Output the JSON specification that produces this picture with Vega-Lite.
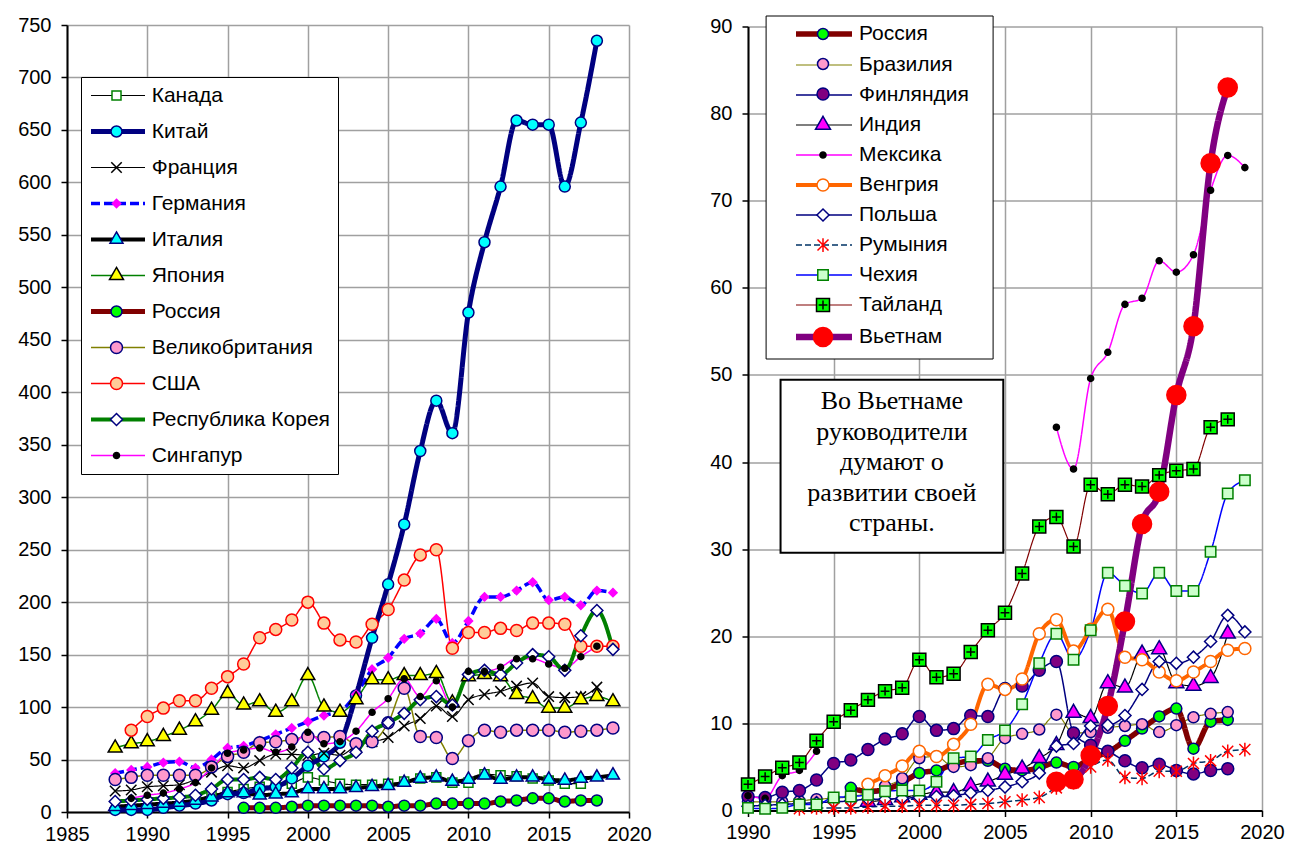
{
"$schema": "https://vega.github.io/schema/vega-lite/v6.json",
"autosize": {"type": "pad"},
"padding": {"left": 17, "top": 15, "right": 5, "bottom": 10},
"background": "white",
"config": {
  "view": {"stroke": null},
  "axis": {"labelFont": "Liberation Sans", "labelFontSize": 20, "labelColor": "black", "domainColor": "black", "domainWidth": 2, "tickColor": "black", "tickSize": 6, "tickWidth": 1.5, "gridColor": "#a0a0a0", "gridWidth": 1.5, "gridOpacity": 1, "labelFlush": false, "labelOverlap": false, "labelPadding": 8}
},
"resolve": {
  "scale": {"color": "independent", "strokeDash": "independent", "fill": "independent", "stroke": "independent", "shape": "independent", "x": "independent", "y": "independent"},
  "legend": {"color": "independent", "strokeDash": "independent", "fill": "independent", "stroke": "independent", "shape": "independent"}
},
"datasets": {
"L": [
{"c":"Канада","t":1993,"v":12},{"c":"Канада","t":1994,"v":16},{"c":"Канада","t":1995,"v":19},{"c":"Канада","t":1996,"v":22},{"c":"Канада","t":1997,"v":24},{"c":"Канада","t":1998,"v":25},{"c":"Канада","t":1999,"v":27},{"c":"Канада","t":2000,"v":33},{"c":"Канада","t":2001,"v":30},{"c":"Канада","t":2002,"v":27},{"c":"Канада","t":2003,"v":26},{"c":"Канада","t":2004,"v":26},{"c":"Канада","t":2005,"v":27},{"c":"Канада","t":2006,"v":29},{"c":"Канада","t":2007,"v":32},{"c":"Канада","t":2008,"v":33},{"c":"Канада","t":2009,"v":28},{"c":"Канада","t":2010,"v":28},{"c":"Канада","t":2011,"v":36},{"c":"Канада","t":2012,"v":35},{"c":"Канада","t":2013,"v":34},{"c":"Канада","t":2014,"v":32},{"c":"Канада","t":2015,"v":30},{"c":"Канада","t":2016,"v":27},{"c":"Канада","t":2017,"v":27},
{"c":"Китай","t":1988,"v":2},{"c":"Китай","t":1989,"v":2},{"c":"Китай","t":1990,"v":2},{"c":"Китай","t":1991,"v":4},{"c":"Китай","t":1992,"v":6},{"c":"Китай","t":1993,"v":8},{"c":"Китай","t":1994,"v":11},{"c":"Китай","t":1995,"v":17},{"c":"Китай","t":1996,"v":18},{"c":"Китай","t":1997,"v":22},{"c":"Китай","t":1998,"v":24},{"c":"Китай","t":1999,"v":32},{"c":"Китай","t":2000,"v":44},{"c":"Китай","t":2001,"v":53},{"c":"Китай","t":2002,"v":66},{"c":"Китай","t":2003,"v":111},{"c":"Китай","t":2004,"v":166},{"c":"Китай","t":2005,"v":217},{"c":"Китай","t":2006,"v":274},{"c":"Китай","t":2007,"v":344},{"c":"Китай","t":2008,"v":392},{"c":"Китай","t":2009,"v":361},{"c":"Китай","t":2010,"v":476},{"c":"Китай","t":2011,"v":543},{"c":"Китай","t":2012,"v":596},{"c":"Китай","t":2013,"v":659},{"c":"Китай","t":2014,"v":655},{"c":"Китай","t":2015,"v":655},{"c":"Китай","t":2016,"v":596},{"c":"Китай","t":2017,"v":657},{"c":"Китай","t":2018,"v":735},
{"c":"Франция","t":1988,"v":20},{"c":"Франция","t":1989,"v":21},{"c":"Франция","t":1990,"v":24},{"c":"Франция","t":1991,"v":25},{"c":"Франция","t":1992,"v":26},{"c":"Франция","t":1993,"v":31},{"c":"Франция","t":1994,"v":38},{"c":"Франция","t":1995,"v":44},{"c":"Франция","t":1996,"v":42},{"c":"Франция","t":1997,"v":49},{"c":"Франция","t":1998,"v":55},{"c":"Франция","t":1999,"v":55},{"c":"Франция","t":2000,"v":54},{"c":"Франция","t":2001,"v":56},{"c":"Франция","t":2002,"v":54},{"c":"Франция","t":2003,"v":63},{"c":"Франция","t":2004,"v":67},{"c":"Франция","t":2005,"v":71},{"c":"Франция","t":2006,"v":82},{"c":"Франция","t":2007,"v":89},{"c":"Франция","t":2008,"v":101},{"c":"Франция","t":2009,"v":91},{"c":"Франция","t":2010,"v":107},{"c":"Франция","t":2011,"v":112},{"c":"Франция","t":2012,"v":115},{"c":"Франция","t":2013,"v":120},{"c":"Франция","t":2014,"v":123},{"c":"Франция","t":2015,"v":110},{"c":"Франция","t":2016,"v":109},{"c":"Франция","t":2017,"v":110},{"c":"Франция","t":2018,"v":119},
{"c":"Германия","t":1988,"v":37},{"c":"Германия","t":1989,"v":40},{"c":"Германия","t":1990,"v":43},{"c":"Германия","t":1991,"v":47},{"c":"Германия","t":1992,"v":48},{"c":"Германия","t":1993,"v":42},{"c":"Германия","t":1994,"v":50},{"c":"Германия","t":1995,"v":61},{"c":"Германия","t":1996,"v":63},{"c":"Германия","t":1997,"v":68},{"c":"Германия","t":1998,"v":74},{"c":"Германия","t":1999,"v":80},{"c":"Германия","t":2000,"v":86},{"c":"Германия","t":2001,"v":92},{"c":"Германия","t":2002,"v":96},{"c":"Германия","t":2003,"v":112},{"c":"Германия","t":2004,"v":136},{"c":"Германия","t":2005,"v":147},{"c":"Германия","t":2006,"v":165},{"c":"Германия","t":2007,"v":170},{"c":"Германия","t":2008,"v":184},{"c":"Германия","t":2009,"v":161},{"c":"Германия","t":2010,"v":182},{"c":"Германия","t":2011,"v":205},{"c":"Германия","t":2012,"v":205},{"c":"Германия","t":2013,"v":211},{"c":"Германия","t":2014,"v":219},{"c":"Германия","t":2015,"v":202},{"c":"Германия","t":2016,"v":205},{"c":"Германия","t":2017,"v":197},{"c":"Германия","t":2018,"v":211},{"c":"Германия","t":2019,"v":209},
{"c":"Италия","t":1988,"v":5},{"c":"Италия","t":1989,"v":6},{"c":"Италия","t":1990,"v":7},{"c":"Италия","t":1991,"v":8},{"c":"Италия","t":1992,"v":9},{"c":"Италия","t":1993,"v":11},{"c":"Италия","t":1994,"v":14},{"c":"Италия","t":1995,"v":18},{"c":"Италия","t":1996,"v":18},{"c":"Италия","t":1997,"v":16},{"c":"Италия","t":1998,"v":17},{"c":"Италия","t":1999,"v":18},{"c":"Италия","t":2000,"v":22},{"c":"Италия","t":2001,"v":22},{"c":"Италия","t":2002,"v":22},{"c":"Италия","t":2003,"v":23},{"c":"Италия","t":2004,"v":24},{"c":"Италия","t":2005,"v":25},{"c":"Италия","t":2006,"v":28},{"c":"Италия","t":2007,"v":32},{"c":"Италия","t":2008,"v":33},{"c":"Италия","t":2009,"v":29},{"c":"Италия","t":2010,"v":31},{"c":"Италия","t":2011,"v":35},{"c":"Италия","t":2012,"v":31},{"c":"Италия","t":2013,"v":33},{"c":"Италия","t":2014,"v":33},{"c":"Италия","t":2015,"v":31},{"c":"Италия","t":2016,"v":30},{"c":"Италия","t":2017,"v":32},{"c":"Италия","t":2018,"v":33},{"c":"Италия","t":2019,"v":35},
{"c":"Япония","t":1988,"v":61},{"c":"Япония","t":1989,"v":65},{"c":"Япония","t":1990,"v":67},{"c":"Япония","t":1991,"v":72},{"c":"Япония","t":1992,"v":78},{"c":"Япония","t":1993,"v":86},{"c":"Япония","t":1994,"v":97},{"c":"Япония","t":1995,"v":113},{"c":"Япония","t":1996,"v":102},{"c":"Япония","t":1997,"v":105},{"c":"Япония","t":1998,"v":95},{"c":"Япония","t":1999,"v":105},{"c":"Япония","t":2000,"v":130},{"c":"Япония","t":2001,"v":100},{"c":"Япония","t":2002,"v":95},{"c":"Япония","t":2003,"v":107},{"c":"Япония","t":2004,"v":126},{"c":"Япония","t":2005,"v":126},{"c":"Япония","t":2006,"v":130},{"c":"Япония","t":2007,"v":130},{"c":"Япония","t":2008,"v":132},{"c":"Япония","t":2009,"v":104},{"c":"Япония","t":2010,"v":129},{"c":"Япония","t":2011,"v":131},{"c":"Япония","t":2012,"v":129},{"c":"Япония","t":2013,"v":112},{"c":"Япония","t":2014,"v":108},{"c":"Япония","t":2015,"v":99},{"c":"Япония","t":2016,"v":99},{"c":"Япония","t":2017,"v":107},{"c":"Япония","t":2018,"v":110},{"c":"Япония","t":2019,"v":105},
{"c":"Россия","t":1996,"v":4},{"c":"Россия","t":1997,"v":4},{"c":"Россия","t":1998,"v":4},{"c":"Россия","t":1999,"v":5},{"c":"Россия","t":2000,"v":6},{"c":"Россия","t":2001,"v":6},{"c":"Россия","t":2002,"v":6},{"c":"Россия","t":2003,"v":6},{"c":"Россия","t":2004,"v":6},{"c":"Россия","t":2005,"v":5},{"c":"Россия","t":2006,"v":6},{"c":"Россия","t":2007,"v":6},{"c":"Россия","t":2008,"v":8},{"c":"Россия","t":2009,"v":8},{"c":"Россия","t":2010,"v":8},{"c":"Россия","t":2011,"v":8},{"c":"Россия","t":2012,"v":10},{"c":"Россия","t":2013,"v":11},{"c":"Россия","t":2014,"v":13},{"c":"Россия","t":2015,"v":13},{"c":"Россия","t":2016,"v":10},{"c":"Россия","t":2017,"v":11},{"c":"Россия","t":2018,"v":11},
{"c":"Великобритания","t":1988,"v":31},{"c":"Великобритания","t":1989,"v":33},{"c":"Великобритания","t":1990,"v":35},{"c":"Великобритания","t":1991,"v":35},{"c":"Великобритания","t":1992,"v":35},{"c":"Великобритания","t":1993,"v":35},{"c":"Великобритания","t":1994,"v":43},{"c":"Великобритания","t":1995,"v":53},{"c":"Великобритания","t":1996,"v":57},{"c":"Великобритания","t":1997,"v":66},{"c":"Великобритания","t":1998,"v":67},{"c":"Великобритания","t":1999,"v":69},{"c":"Великобритания","t":2000,"v":72},{"c":"Великобритания","t":2001,"v":71},{"c":"Великобритания","t":2002,"v":72},{"c":"Великобритания","t":2003,"v":65},{"c":"Великобритания","t":2004,"v":67},{"c":"Великобритания","t":2005,"v":85},{"c":"Великобритания","t":2006,"v":118},{"c":"Великобритания","t":2007,"v":72},{"c":"Великобритания","t":2008,"v":71},{"c":"Великобритания","t":2009,"v":51},{"c":"Великобритания","t":2010,"v":68},{"c":"Великобритания","t":2011,"v":78},{"c":"Великобритания","t":2012,"v":76},{"c":"Великобритания","t":2013,"v":78},{"c":"Великобритания","t":2014,"v":78},{"c":"Великобритания","t":2015,"v":78},{"c":"Великобритания","t":2016,"v":76},{"c":"Великобритания","t":2017,"v":77},{"c":"Великобритания","t":2018,"v":78},{"c":"Великобритания","t":2019,"v":80},
{"c":"США","t":1989,"v":78},{"c":"США","t":1990,"v":91},{"c":"США","t":1991,"v":99},{"c":"США","t":1992,"v":106},{"c":"США","t":1993,"v":106},{"c":"США","t":1994,"v":118},{"c":"США","t":1995,"v":129},{"c":"США","t":1996,"v":141},{"c":"США","t":1997,"v":166},{"c":"США","t":1998,"v":174},{"c":"США","t":1999,"v":183},{"c":"США","t":2000,"v":200},{"c":"США","t":2001,"v":180},{"c":"США","t":2002,"v":164},{"c":"США","t":2003,"v":162},{"c":"США","t":2004,"v":179},{"c":"США","t":2005,"v":193},{"c":"США","t":2006,"v":221},{"c":"США","t":2007,"v":245},{"c":"США","t":2008,"v":250},{"c":"США","t":2009,"v":156},{"c":"США","t":2010,"v":171},{"c":"США","t":2011,"v":171},{"c":"США","t":2012,"v":175},{"c":"США","t":2013,"v":173},{"c":"США","t":2014,"v":180},{"c":"США","t":2015,"v":180},{"c":"США","t":2016,"v":179},{"c":"США","t":2017,"v":158},{"c":"США","t":2018,"v":158},{"c":"США","t":2019,"v":158},
{"c":"Республика Корея","t":1988,"v":10},{"c":"Республика Корея","t":1989,"v":11},{"c":"Республика Корея","t":1990,"v":12},{"c":"Республика Корея","t":1991,"v":13},{"c":"Республика Корея","t":1992,"v":14},{"c":"Республика Корея","t":1993,"v":16},{"c":"Республика Корея","t":1994,"v":22},{"c":"Республика Корея","t":1995,"v":31},{"c":"Республика Корея","t":1996,"v":31},{"c":"Республика Корея","t":1997,"v":33},{"c":"Республика Корея","t":1998,"v":31},{"c":"Республика Корея","t":1999,"v":42},{"c":"Республика Корея","t":2000,"v":57},{"c":"Республика Корея","t":2001,"v":41},{"c":"Республика Корея","t":2002,"v":49},{"c":"Республика Корея","t":2003,"v":57},{"c":"Республика Корея","t":2004,"v":77},{"c":"Республика Корея","t":2005,"v":85},{"c":"Республика Корея","t":2006,"v":94},{"c":"Республика Корея","t":2007,"v":107},{"c":"Республика Корея","t":2008,"v":110},{"c":"Республика Корея","t":2009,"v":102},{"c":"Республика Корея","t":2010,"v":131},{"c":"Республика Корея","t":2011,"v":135},{"c":"Республика Корея","t":2012,"v":131},{"c":"Республика Корея","t":2013,"v":142},{"c":"Республика Корея","t":2014,"v":150},{"c":"Республика Корея","t":2015,"v":148},{"c":"Республика Корея","t":2016,"v":135},{"c":"Республика Корея","t":2017,"v":168},{"c":"Республика Корея","t":2018,"v":192},{"c":"Республика Корея","t":2019,"v":155},
{"c":"Сингапур","t":1989,"v":13},{"c":"Сингапур","t":1990,"v":16},{"c":"Сингапур","t":1991,"v":18},{"c":"Сингапур","t":1992,"v":22},{"c":"Сингапур","t":1993,"v":28},{"c":"Сингапур","t":1994,"v":42},{"c":"Сингапур","t":1995,"v":56},{"c":"Сингапур","t":1996,"v":59},{"c":"Сингапур","t":1997,"v":61},{"c":"Сингапур","t":1998,"v":57},{"c":"Сингапур","t":1999,"v":62},{"c":"Сингапур","t":2000,"v":76},{"c":"Сингапур","t":2001,"v":65},{"c":"Сингапур","t":2002,"v":67},{"c":"Сингапур","t":2003,"v":77},{"c":"Сингапур","t":2004,"v":95},{"c":"Сингапур","t":2005,"v":108},{"c":"Сингапур","t":2006,"v":127},{"c":"Сингапур","t":2007,"v":110},{"c":"Сингапур","t":2008,"v":125},{"c":"Сингапур","t":2009,"v":100},{"c":"Сингапур","t":2010,"v":134},{"c":"Сингапур","t":2011,"v":134},{"c":"Сингапур","t":2012,"v":138},{"c":"Сингапур","t":2013,"v":146},{"c":"Сингапур","t":2014,"v":146},{"c":"Сингапур","t":2015,"v":141},{"c":"Сингапур","t":2016,"v":137},{"c":"Сингапур","t":2017,"v":148},{"c":"Сингапур","t":2018,"v":158}
],
"R": [
{"c":"Россия","t":1996,"v":2.6},{"c":"Россия","t":1997,"v":2.2},{"c":"Россия","t":1998,"v":2.4},{"c":"Россия","t":1999,"v":3.2},{"c":"Россия","t":2000,"v":4.3},{"c":"Россия","t":2001,"v":4.6},{"c":"Россия","t":2002,"v":5.3},{"c":"Россия","t":2003,"v":5.7},{"c":"Россия","t":2004,"v":5.7},{"c":"Россия","t":2005,"v":4.8},{"c":"Россия","t":2006,"v":4.6},{"c":"Россия","t":2007,"v":4.9},{"c":"Россия","t":2008,"v":5.5},{"c":"Россия","t":2009,"v":5.0},{"c":"Россия","t":2010,"v":6.0},{"c":"Россия","t":2011,"v":6.7},{"c":"Россия","t":2012,"v":8.0},{"c":"Россия","t":2013,"v":9.4},{"c":"Россия","t":2014,"v":10.8},{"c":"Россия","t":2015,"v":11.7},{"c":"Россия","t":2016,"v":7.1},{"c":"Россия","t":2017,"v":10.2},{"c":"Россия","t":2018,"v":10.4},
{"c":"Бразилия","t":1990,"v":1.0},{"c":"Бразилия","t":1991,"v":1.0},{"c":"Бразилия","t":1992,"v":1.0},{"c":"Бразилия","t":1993,"v":1.1},{"c":"Бразилия","t":1994,"v":1.3},{"c":"Бразилия","t":1995,"v":1.4},{"c":"Бразилия","t":1996,"v":1.6},{"c":"Бразилия","t":1997,"v":2.0},{"c":"Бразилия","t":1998,"v":2.8},{"c":"Бразилия","t":1999,"v":3.7},{"c":"Бразилия","t":2000,"v":6.0},{"c":"Бразилия","t":2001,"v":6.2},{"c":"Бразилия","t":2002,"v":5.0},{"c":"Бразилия","t":2003,"v":5.2},{"c":"Бразилия","t":2004,"v":6.0},{"c":"Бразилия","t":2005,"v":8.3},{"c":"Бразилия","t":2006,"v":8.8},{"c":"Бразилия","t":2007,"v":9.3},{"c":"Бразилия","t":2008,"v":11.0},{"c":"Бразилия","t":2009,"v":8.9},{"c":"Бразилия","t":2010,"v":9.0},{"c":"Бразилия","t":2011,"v":9.5},{"c":"Бразилия","t":2012,"v":9.7},{"c":"Бразилия","t":2013,"v":9.9},{"c":"Бразилия","t":2014,"v":9.0},{"c":"Бразилия","t":2015,"v":9.8},{"c":"Бразилия","t":2016,"v":10.7},{"c":"Бразилия","t":2017,"v":11.1},{"c":"Бразилия","t":2018,"v":11.3},
{"c":"Финляндия","t":1990,"v":1.6},{"c":"Финляндия","t":1991,"v":1.5},{"c":"Финляндия","t":1992,"v":2.1},{"c":"Финляндия","t":1993,"v":2.3},{"c":"Финляндия","t":1994,"v":3.5},{"c":"Финляндия","t":1995,"v":5.4},{"c":"Финляндия","t":1996,"v":5.8},{"c":"Финляндия","t":1997,"v":7.0},{"c":"Финляндия","t":1998,"v":8.2},{"c":"Финляндия","t":1999,"v":8.8},{"c":"Финляндия","t":2000,"v":10.8},{"c":"Финляндия","t":2001,"v":9.2},{"c":"Финляндия","t":2002,"v":9.4},{"c":"Финляндия","t":2003,"v":10.9},{"c":"Финляндия","t":2004,"v":10.8},{"c":"Финляндия","t":2005,"v":14.0},{"c":"Финляндия","t":2006,"v":14.3},{"c":"Финляндия","t":2007,"v":16.1},{"c":"Финляндия","t":2008,"v":17.1},{"c":"Финляндия","t":2009,"v":8.9},{"c":"Финляндия","t":2010,"v":7.5},{"c":"Финляндия","t":2011,"v":6.8},{"c":"Финляндия","t":2012,"v":5.7},{"c":"Финляндия","t":2013,"v":4.9},{"c":"Финляндия","t":2014,"v":5.3},{"c":"Финляндия","t":2015,"v":4.6},{"c":"Финляндия","t":2016,"v":4.2},{"c":"Финляндия","t":2017,"v":4.6},{"c":"Финляндия","t":2018,"v":4.8},
{"c":"Индия","t":1997,"v":1.0},{"c":"Индия","t":1998,"v":1.2},{"c":"Индия","t":1999,"v":1.5},{"c":"Индия","t":2000,"v":1.8},{"c":"Индия","t":2001,"v":2.1},{"c":"Индия","t":2002,"v":2.1},{"c":"Индия","t":2003,"v":2.8},{"c":"Индия","t":2004,"v":3.3},{"c":"Индия","t":2005,"v":4.1},{"c":"Индия","t":2006,"v":4.8},{"c":"Индия","t":2007,"v":6.0},{"c":"Индия","t":2008,"v":7.5},{"c":"Индия","t":2009,"v":11.2},{"c":"Индия","t":2010,"v":10.6},{"c":"Индия","t":2011,"v":14.6},{"c":"Индия","t":2012,"v":14.1},{"c":"Индия","t":2013,"v":18.0},{"c":"Индия","t":2014,"v":18.5},{"c":"Индия","t":2015,"v":14.6},{"c":"Индия","t":2016,"v":14.3},{"c":"Индия","t":2017,"v":15.2},{"c":"Индия","t":2018,"v":20.3},
{"c":"Мексика","g":1,"t":1990,"v":1.7},{"c":"Мексика","g":1,"t":1991,"v":1.4},{"c":"Мексика","g":1,"t":1992,"v":4.0},{"c":"Мексика","g":1,"t":1993,"v":4.6},{"c":"Мексика","g":1,"t":1994,"v":6.8},{"c":"Мексика","g":2,"t":2008,"v":44.0},{"c":"Мексика","g":2,"t":2009,"v":39.2},{"c":"Мексика","g":2,"t":2010,"v":49.6},{"c":"Мексика","g":2,"t":2011,"v":52.6},{"c":"Мексика","g":2,"t":2012,"v":58.1},{"c":"Мексика","g":2,"t":2013,"v":58.8},{"c":"Мексика","g":2,"t":2014,"v":63.1},{"c":"Мексика","g":2,"t":2015,"v":61.8},{"c":"Мексика","g":2,"t":2016,"v":63.8},{"c":"Мексика","g":2,"t":2017,"v":71.2},{"c":"Мексика","g":2,"t":2018,"v":75.2},{"c":"Мексика","g":2,"t":2019,"v":73.8},
{"c":"Венгрия","t":1997,"v":3.0},{"c":"Венгрия","t":1998,"v":4.0},{"c":"Венгрия","t":1999,"v":5.1},{"c":"Венгрия","t":2000,"v":6.8},{"c":"Венгрия","t":2001,"v":6.2},{"c":"Венгрия","t":2002,"v":7.6},{"c":"Венгрия","t":2003,"v":9.9},{"c":"Венгрия","t":2004,"v":14.5},{"c":"Венгрия","t":2005,"v":13.9},{"c":"Венгрия","t":2006,"v":15.1},{"c":"Венгрия","t":2007,"v":20.3},{"c":"Венгрия","t":2008,"v":21.9},{"c":"Венгрия","t":2009,"v":18.3},{"c":"Венгрия","t":2010,"v":20.8},{"c":"Венгрия","t":2011,"v":23.1},{"c":"Венгрия","t":2012,"v":17.6},{"c":"Венгрия","t":2013,"v":17.3},{"c":"Венгрия","t":2014,"v":15.9},{"c":"Венгрия","t":2015,"v":14.9},{"c":"Венгрия","t":2016,"v":15.9},{"c":"Венгрия","t":2017,"v":17.1},{"c":"Венгрия","t":2018,"v":18.4},{"c":"Венгрия","t":2019,"v":18.6},
{"c":"Польша","t":1990,"v":0.5},{"c":"Польша","t":1991,"v":0.6},{"c":"Польша","t":1992,"v":0.7},{"c":"Польша","t":1993,"v":0.8},{"c":"Польша","t":1994,"v":0.9},{"c":"Польша","t":1995,"v":1.0},{"c":"Польша","t":1996,"v":1.1},{"c":"Польша","t":1997,"v":1.3},{"c":"Польша","t":1998,"v":1.3},{"c":"Польша","t":1999,"v":1.4},{"c":"Польша","t":2000,"v":1.5},{"c":"Польша","t":2001,"v":1.6},{"c":"Польша","t":2002,"v":1.7},{"c":"Польша","t":2003,"v":2.0},{"c":"Польша","t":2004,"v":2.3},{"c":"Польша","t":2005,"v":2.7},{"c":"Польша","t":2006,"v":3.3},{"c":"Польша","t":2007,"v":4.3},{"c":"Польша","t":2008,"v":7.4},{"c":"Польша","t":2009,"v":7.7},{"c":"Польша","t":2010,"v":9.7},{"c":"Польша","t":2011,"v":9.8},{"c":"Польша","t":2012,"v":10.9},{"c":"Польша","t":2013,"v":13.9},{"c":"Польша","t":2014,"v":17.1},{"c":"Польша","t":2015,"v":16.9},{"c":"Польша","t":2016,"v":17.6},{"c":"Польша","t":2017,"v":19.4},{"c":"Польша","t":2018,"v":22.4},{"c":"Польша","t":2019,"v":20.5},
{"c":"Румыния","t":1993,"v":0.2},{"c":"Румыния","t":1994,"v":0.3},{"c":"Румыния","t":1995,"v":0.3},{"c":"Румыния","t":1996,"v":0.3},{"c":"Румыния","t":1997,"v":0.4},{"c":"Румыния","t":1998,"v":0.5},{"c":"Румыния","t":1999,"v":0.5},{"c":"Румыния","t":2000,"v":0.6},{"c":"Румыния","t":2001,"v":0.6},{"c":"Румыния","t":2002,"v":0.6},{"c":"Румыния","t":2003,"v":0.7},{"c":"Румыния","t":2004,"v":0.8},{"c":"Румыния","t":2005,"v":1.0},{"c":"Румыния","t":2006,"v":1.2},{"c":"Румыния","t":2007,"v":1.5},{"c":"Румыния","t":2008,"v":2.6},{"c":"Румыния","t":2009,"v":3.2},{"c":"Румыния","t":2010,"v":5.0},{"c":"Румыния","t":2011,"v":5.8},{"c":"Румыния","t":2012,"v":3.8},{"c":"Румыния","t":2013,"v":3.7},{"c":"Румыния","t":2014,"v":4.5},{"c":"Румыния","t":2015,"v":4.5},{"c":"Румыния","t":2016,"v":5.4},{"c":"Румыния","t":2017,"v":5.7},{"c":"Румыния","t":2018,"v":6.8},{"c":"Румыния","t":2019,"v":7.0},
{"c":"Чехия","t":1990,"v":0.3},{"c":"Чехия","t":1991,"v":0.2},{"c":"Чехия","t":1992,"v":0.3},{"c":"Чехия","t":1993,"v":0.7},{"c":"Чехия","t":1994,"v":0.7},{"c":"Чехия","t":1995,"v":1.5},{"c":"Чехия","t":1996,"v":1.6},{"c":"Чехия","t":1997,"v":1.8},{"c":"Чехия","t":1998,"v":2.2},{"c":"Чехия","t":1999,"v":2.3},{"c":"Чехия","t":2000,"v":2.3},{"c":"Чехия","t":2001,"v":3.3},{"c":"Чехия","t":2002,"v":6.0},{"c":"Чехия","t":2003,"v":6.2},{"c":"Чехия","t":2004,"v":8.1},{"c":"Чехия","t":2005,"v":9.2},{"c":"Чехия","t":2006,"v":12.2},{"c":"Чехия","t":2007,"v":16.9},{"c":"Чехия","t":2008,"v":20.3},{"c":"Чехия","t":2009,"v":17.3},{"c":"Чехия","t":2010,"v":20.7},{"c":"Чехия","t":2011,"v":27.3},{"c":"Чехия","t":2012,"v":25.8},{"c":"Чехия","t":2013,"v":24.9},{"c":"Чехия","t":2014,"v":27.3},{"c":"Чехия","t":2015,"v":25.2},{"c":"Чехия","t":2016,"v":25.2},{"c":"Чехия","t":2017,"v":29.7},{"c":"Чехия","t":2018,"v":36.4},{"c":"Чехия","t":2019,"v":37.9},
{"c":"Тайланд","t":1990,"v":3.0},{"c":"Тайланд","t":1991,"v":3.9},{"c":"Тайланд","t":1992,"v":4.9},{"c":"Тайланд","t":1993,"v":5.5},{"c":"Тайланд","t":1994,"v":8.0},{"c":"Тайланд","t":1995,"v":10.2},{"c":"Тайланд","t":1996,"v":11.5},{"c":"Тайланд","t":1997,"v":12.7},{"c":"Тайланд","t":1998,"v":13.7},{"c":"Тайланд","t":1999,"v":14.1},{"c":"Тайланд","t":2000,"v":17.3},{"c":"Тайланд","t":2001,"v":15.3},{"c":"Тайланд","t":2002,"v":15.7},{"c":"Тайланд","t":2003,"v":18.2},{"c":"Тайланд","t":2004,"v":20.7},{"c":"Тайланд","t":2005,"v":22.7},{"c":"Тайланд","t":2006,"v":27.2},{"c":"Тайланд","t":2007,"v":32.6},{"c":"Тайланд","t":2008,"v":33.7},{"c":"Тайланд","t":2009,"v":30.3},{"c":"Тайланд","t":2010,"v":37.4},{"c":"Тайланд","t":2011,"v":36.3},{"c":"Тайланд","t":2012,"v":37.4},{"c":"Тайланд","t":2013,"v":37.2},{"c":"Тайланд","t":2014,"v":38.5},{"c":"Тайланд","t":2015,"v":39.0},{"c":"Тайланд","t":2016,"v":39.2},{"c":"Тайланд","t":2017,"v":44.0},{"c":"Тайланд","t":2018,"v":44.9},
{"c":"Вьетнам","t":2008,"v":3.3},{"c":"Вьетнам","t":2009,"v":3.6},{"c":"Вьетнам","t":2010,"v":6.3},{"c":"Вьетнам","t":2011,"v":12.0},{"c":"Вьетнам","t":2012,"v":21.7},{"c":"Вьетнам","t":2013,"v":32.9},{"c":"Вьетнам","t":2014,"v":36.6},{"c":"Вьетнам","t":2015,"v":47.7},{"c":"Вьетнам","t":2016,"v":55.6},{"c":"Вьетнам","t":2017,"v":74.3},{"c":"Вьетнам","t":2018,"v":83.0}
]
},
"spacing": 119,
"bounds": "flush",
"center": true,
"hconcat": [
{
  "width": 562, "height": 787,
  "data": {"name": "L"},
  "encoding": {
    "x": {"field": "t", "type": "quantitative", "scale": {"domain": [1985, 2020], "nice": false, "zero": false}, "axis": {"values": [1985,1990,1995,2000,2005,2010,2015,2020], "format": "d", "title": null, "labelPadding": 6}},
    "y": {"field": "v", "type": "quantitative", "scale": {"domain": [0, 750], "nice": false}, "axis": {"values": [0,50,100,150,200,250,300,350,400,450,500,550,600,650,700,750], "title": null, "labelPadding": 10}}
  },
  "layer": [
    {"transform": [{"filter": {"field": "c", "oneOf": ["Канада","Франция"]}}],
     "mark": {"type": "line", "interpolate": "monotone", "strokeWidth": 1.2},
     "encoding": {
       "color": {"field": "c", "type": "nominal",
         "scale": {"domain": ["Канада","Китай","Франция","Германия","Италия","Япония","Россия","Великобритания","США","Республика Корея","Сингапур"], "range": ["#000000","#000080","#000000","#0000ff","#000000","#008000","#800000","#808000","#ff0000","#008000","#ff00ff"]},
         "legend": {"orient": "none", "legendX": 14, "legendY": 52, "title": null, "symbolType": "stroke", "symbolSize": 2916, "symbolOffset": 18.5, "labelOffset": 23.2, "labelFont": "Liberation Sans", "labelFontSize": 21, "labelColor": "black", "padding": 8, "rowPadding": 14, "strokeColor": "black", "fillColor": "white", "labelLimit": 400,
           "encode": {"symbols": {"update": {"strokeWidth": {"signal": "datum.value === 'Китай' || datum.value === 'Россия' ? 5 : (datum.value === 'Италия' || datum.value === 'Республика Корея' ? 4 : (datum.value === 'Германия' ? 3.5 : (datum.value === 'Канада' || datum.value === 'Франция' ? 1.2 : 1.5)))"}}}}}},
       "strokeDash": {"field": "c", "type": "nominal",
         "scale": {"domain": ["Канада","Китай","Франция","Германия","Италия","Япония","Россия","Великобритания","США","Республика Корея","Сингапур"], "range": [[1,0],[1,0],[1,0],[9,4],[1,0],[1,0],[1,0],[1,0],[1,0],[1,0],[1,0]]}}
     }},
    {"transform": [{"filter": {"field": "c", "oneOf": ["Япония","Великобритания","США","Сингапур"]}}],
     "mark": {"type": "line", "interpolate": "monotone", "strokeWidth": 1.5},
     "encoding": {
       "color": {"field": "c", "type": "nominal", "scale": {"domain": ["Канада","Китай","Франция","Германия","Италия","Япония","Россия","Великобритания","США","Республика Корея","Сингапур"], "range": ["#000000","#000080","#000000","#0000ff","#000000","#008000","#800000","#808000","#ff0000","#008000","#ff00ff"]}},
       "strokeDash": {"field": "c", "type": "nominal", "scale": {"domain": ["Канада","Китай","Франция","Германия","Италия","Япония","Россия","Великобритания","США","Республика Корея","Сингапур"], "range": [[1,0],[1,0],[1,0],[9,4],[1,0],[1,0],[1,0],[1,0],[1,0],[1,0],[1,0]]}}
     }},
    {"transform": [{"filter": {"field": "c", "oneOf": ["Германия"]}}],
     "mark": {"type": "line", "interpolate": "monotone", "strokeWidth": 3.5},
     "encoding": {
       "color": {"field": "c", "type": "nominal", "scale": {"domain": ["Канада","Китай","Франция","Германия","Италия","Япония","Россия","Великобритания","США","Республика Корея","Сингапур"], "range": ["#000000","#000080","#000000","#0000ff","#000000","#008000","#800000","#808000","#ff0000","#008000","#ff00ff"]}},
       "strokeDash": {"field": "c", "type": "nominal", "scale": {"domain": ["Канада","Китай","Франция","Германия","Италия","Япония","Россия","Великобритания","США","Республика Корея","Сингапур"], "range": [[1,0],[1,0],[1,0],[9,4],[1,0],[1,0],[1,0],[1,0],[1,0],[1,0],[1,0]]}}
     }},
    {"transform": [{"filter": {"field": "c", "oneOf": ["Италия","Республика Корея"]}}],
     "mark": {"type": "line", "interpolate": "monotone", "strokeWidth": 4},
     "encoding": {
       "color": {"field": "c", "type": "nominal", "scale": {"domain": ["Канада","Китай","Франция","Германия","Италия","Япония","Россия","Великобритания","США","Республика Корея","Сингапур"], "range": ["#000000","#000080","#000000","#0000ff","#000000","#008000","#800000","#808000","#ff0000","#008000","#ff00ff"]}},
       "strokeDash": {"field": "c", "type": "nominal", "scale": {"domain": ["Канада","Китай","Франция","Германия","Италия","Япония","Россия","Великобритания","США","Республика Корея","Сингапур"], "range": [[1,0],[1,0],[1,0],[9,4],[1,0],[1,0],[1,0],[1,0],[1,0],[1,0],[1,0]]}}
     }},
    {"transform": [{"filter": {"field": "c", "oneOf": ["Россия","Китай"]}}],
     "mark": {"type": "line", "interpolate": "monotone", "strokeWidth": 5},
     "encoding": {
       "color": {"field": "c", "type": "nominal", "scale": {"domain": ["Канада","Китай","Франция","Германия","Италия","Япония","Россия","Великобритания","США","Республика Корея","Сингапур"], "range": ["#000000","#000080","#000000","#0000ff","#000000","#008000","#800000","#808000","#ff0000","#008000","#ff00ff"]}},
       "strokeDash": {"field": "c", "type": "nominal", "scale": {"domain": ["Канада","Китай","Франция","Германия","Италия","Япония","Россия","Великобритания","США","Республика Корея","Сингапур"], "range": [[1,0],[1,0],[1,0],[9,4],[1,0],[1,0],[1,0],[1,0],[1,0],[1,0],[1,0]]}}
     }},
    {"mark": {"type": "point", "filled": true, "opacity": 1, "size": 121, "strokeWidth": 1.5},
     "encoding": {
       "fill": {"field": "c", "type": "nominal",
         "scale": {"domain": ["Канада","Китай","Франция","Германия","Италия","Япония","Россия","Великобритания","США","Республика Корея","Сингапур","~"], "range": ["#ffffff","#00ffff","#000000","#ff00ff","#00ffff","#ffff00","#00ff00","#ff99cc","#ffcc99","#ffffff","#000000","#ffffff"]},
         "legend": {"orient": "none", "legendX": 14, "legendY": 52, "title": null, "values": ["Канада","Китай","Франция","Германия","Италия","Япония","Россия","Великобритания","США","Республика Корея","Сингапур"], "symbolSize": 121, "symbolOffset": 17, "symbolStrokeWidth": 1.5, "labelOffset": 23.2, "labelFont": "Liberation Sans", "labelFontSize": 21, "labelOpacity": 0, "padding": 8, "rowPadding": 14, "labelLimit": 400}},
       "stroke": {"field": "c", "type": "nominal",
         "scale": {"domain": ["Канада","Китай","Франция","Германия","Италия","Япония","Россия","Великобритания","США","Республика Корея","Сингапур","~"], "range": ["#008000","#000080","#000000","#ff00ff","#000080","#000000","#000080","#000080","#ff0000","#000080","#000000","#000000"]}},
       "shape": {"field": "c", "type": "nominal",
         "scale": {"domain": ["Канада","Китай","Франция","Германия","Италия","Япония","Россия","Великобритания","США","Республика Корея","Сингапур","~"], "range": ["M-0.82,-0.82H0.82V0.82H-0.82Z","circle","M-0.95,-0.95L0.95,0.95M-0.95,0.95L0.95,-0.95","M0,-0.75L0.75,0L0,0.75L-0.75,0Z","M0,-1.37L1.18,0.68L-1.18,0.68Z","M0,-1.47L1.27,0.73L-1.27,0.73Z","circle","M-1.09,0A1.09,1.09,0,1,1,1.09,0A1.09,1.09,0,1,1,-1.09,0Z","M-1.09,0A1.09,1.09,0,1,1,1.09,0A1.09,1.09,0,1,1,-1.09,0Z","M0,-1.09L1.09,0L0,1.09L-1.09,0Z","M-0.55,0A0.55,0.55,0,1,1,0.55,0A0.55,0.55,0,1,1,-0.55,0Z","circle"]}}
     }}
  ]
},
{
  "width": 514, "height": 784,
  "data": {"name": "R"},
  "layer": [
   {
    "encoding": {
      "x": {"field": "t", "type": "quantitative", "scale": {"domain": [1990, 2020], "nice": false, "zero": false}, "axis": {"values": [1990,1995,2000,2005,2010,2015,2020], "format": "d", "title": null, "labelPadding": 6}},
      "y": {"field": "v", "type": "quantitative", "scale": {"domain": [0, 90], "nice": false}, "axis": {"values": [0,10,20,30,40,50,60,70,80,90], "title": null, "labelPadding": 10}}
    },
    "layer": [
    {"transform": [{"filter": {"field": "c", "oneOf": ["Бразилия","Индия","Тайланд"]}}],
     "mark": {"type": "line", "interpolate": "monotone", "strokeWidth": 1.2},
     "encoding": {
       "color": {"field": "c", "type": "nominal",
         "scale": {"domain": ["Россия","Бразилия","Финляндия","Индия","Мексика","Венгрия","Польша","Румыния","Чехия","Тайланд","Вьетнам"], "range": ["#800000","#808000","#000080","#000000","#ff00ff","#ff6600","#000080","#003366","#0000ff","#800000","#800080"]},
         "legend": {"orient": "none", "legendX": 17.6, "legendY": -11, "title": ".", "titleOrient": "right", "titleOpacity": 0, "titleFontSize": 10, "titlePadding": 13, "symbolType": "stroke", "symbolSize": 3136, "symbolOffset": 39.9, "labelOffset": 24.5, "labelFont": "Liberation Sans", "labelFontSize": 21, "labelColor": "black", "padding": 8, "rowPadding": 8, "strokeColor": "black", "fillColor": "white", "labelLimit": 400,
           "encode": {"symbols": {"update": {"strokeWidth": {"signal": "datum.value === 'Вьетнам' ? 6.5 : (datum.value === 'Россия' ? 5.5 : (datum.value === 'Венгрия' ? 4 : (datum.value === 'Бразилия' || datum.value === 'Индия' || datum.value === 'Тайланд' ? 1.2 : 1.5)))"}}}}}},
       "strokeDash": {"field": "c", "type": "nominal",
         "scale": {"domain": ["Россия","Бразилия","Финляндия","Индия","Мексика","Венгрия","Польша","Румыния","Чехия","Тайланд","Вьетнам"], "range": [[1,0],[1,0],[1,0],[1,0],[1,0],[1,0],[1,0],[6,3],[1,0],[1,0],[1,0]]}}
     }},
    {"transform": [{"filter": {"field": "c", "oneOf": ["Финляндия","Мексика","Польша","Чехия","Румыния"]}}],
     "mark": {"type": "line", "interpolate": "monotone", "strokeWidth": 1.5},
     "encoding": {
       "color": {"field": "c", "type": "nominal", "scale": {"domain": ["Россия","Бразилия","Финляндия","Индия","Мексика","Венгрия","Польша","Румыния","Чехия","Тайланд","Вьетнам"], "range": ["#800000","#808000","#000080","#000000","#ff00ff","#ff6600","#000080","#003366","#0000ff","#800000","#800080"]}},
       "strokeDash": {"field": "c", "type": "nominal", "scale": {"domain": ["Россия","Бразилия","Финляндия","Индия","Мексика","Венгрия","Польша","Румыния","Чехия","Тайланд","Вьетнам"], "range": [[1,0],[1,0],[1,0],[1,0],[1,0],[1,0],[1,0],[6,3],[1,0],[1,0],[1,0]]}},
       "detail": {"field": "g", "type": "nominal"}
     }},
    {"transform": [{"filter": {"field": "c", "oneOf": ["Венгрия"]}}],
     "mark": {"type": "line", "interpolate": "monotone", "strokeWidth": 4},
     "encoding": {
       "color": {"field": "c", "type": "nominal", "scale": {"domain": ["Россия","Бразилия","Финляндия","Индия","Мексика","Венгрия","Польша","Румыния","Чехия","Тайланд","Вьетнам"], "range": ["#800000","#808000","#000080","#000000","#ff00ff","#ff6600","#000080","#003366","#0000ff","#800000","#800080"]}},
       "strokeDash": {"field": "c", "type": "nominal", "scale": {"domain": ["Россия","Бразилия","Финляндия","Индия","Мексика","Венгрия","Польша","Румыния","Чехия","Тайланд","Вьетнам"], "range": [[1,0],[1,0],[1,0],[1,0],[1,0],[1,0],[1,0],[6,3],[1,0],[1,0],[1,0]]}}
     }},
    {"transform": [{"filter": {"field": "c", "oneOf": ["Россия"]}}],
     "mark": {"type": "line", "interpolate": "monotone", "strokeWidth": 5.5},
     "encoding": {
       "color": {"field": "c", "type": "nominal", "scale": {"domain": ["Россия","Бразилия","Финляндия","Индия","Мексика","Венгрия","Польша","Румыния","Чехия","Тайланд","Вьетнам"], "range": ["#800000","#808000","#000080","#000000","#ff00ff","#ff6600","#000080","#003366","#0000ff","#800000","#800080"]}},
       "strokeDash": {"field": "c", "type": "nominal", "scale": {"domain": ["Россия","Бразилия","Финляндия","Индия","Мексика","Венгрия","Польша","Румыния","Чехия","Тайланд","Вьетнам"], "range": [[1,0],[1,0],[1,0],[1,0],[1,0],[1,0],[1,0],[6,3],[1,0],[1,0],[1,0]]}}
     }},
    {"transform": [{"filter": {"field": "c", "oneOf": ["Вьетнам"]}}],
     "mark": {"type": "line", "interpolate": "monotone", "strokeWidth": 6.5},
     "encoding": {
       "color": {"field": "c", "type": "nominal", "scale": {"domain": ["Россия","Бразилия","Финляндия","Индия","Мексика","Венгрия","Польша","Румыния","Чехия","Тайланд","Вьетнам"], "range": ["#800000","#808000","#000080","#000000","#ff00ff","#ff6600","#000080","#003366","#0000ff","#800000","#800080"]}},
       "strokeDash": {"field": "c", "type": "nominal", "scale": {"domain": ["Россия","Бразилия","Финляндия","Индия","Мексика","Венгрия","Польша","Румыния","Чехия","Тайланд","Вьетнам"], "range": [[1,0],[1,0],[1,0],[1,0],[1,0],[1,0],[1,0],[6,3],[1,0],[1,0],[1,0]]}}
     }},
    {"mark": {"type": "point", "filled": true, "opacity": 1, "size": 121, "strokeWidth": 1.5},
     "encoding": {
       "fill": {"field": "c", "type": "nominal",
         "scale": {"domain": ["Россия","Бразилия","Финляндия","Индия","Мексика","Венгрия","Польша","Румыния","Чехия","Тайланд","Вьетнам","~"], "range": ["#00ff00","#ff99cc","#800080","#ff00ff","#000000","#ffffff","#ffffff","#ff0000","#ccffcc","#00ff00","#ff0000","#ffffff"]},
         "legend": {"orient": "none", "legendX": 17.6, "legendY": -11, "title": null, "values": ["Россия","Бразилия","Финляндия","Индия","Мексика","Венгрия","Польша","Румыния","Чехия","Тайланд","Вьетнам"], "symbolSize": 121, "symbolOffset": 38.9, "symbolStrokeWidth": 1.5, "labelOffset": 24.5, "labelFont": "Liberation Sans", "labelFontSize": 21, "labelOpacity": 0, "padding": 8, "rowPadding": 8, "labelLimit": 400}},
       "stroke": {"field": "c", "type": "nominal",
         "scale": {"domain": ["Россия","Бразилия","Финляндия","Индия","Мексика","Венгрия","Польша","Румыния","Чехия","Тайланд","Вьетнам","~"], "range": ["#000080","#000080","#000080","#000080","#000000","#ff6600","#000080","#ff0000","#008000","#000000","#ff0000","#000000"]}},
       "shape": {"field": "c", "type": "nominal",
         "scale": {"domain": ["Россия","Бразилия","Финляндия","Индия","Мексика","Венгрия","Польша","Румыния","Чехия","Тайланд","Вьетнам","~"], "range": ["circle","circle","M-1.09,0A1.09,1.09,0,1,1,1.09,0A1.09,1.09,0,1,1,-1.09,0Z","M0,-1.57L1.36,0.79L-1.36,0.79Z","M-0.55,0A0.55,0.55,0,1,1,0.55,0A0.55,0.55,0,1,1,-0.55,0Z","M-1.09,0A1.09,1.09,0,1,1,1.09,0A1.09,1.09,0,1,1,-1.09,0Z","M0,-1.1L1.1,0L0,1.1L-1.1,0Z","M-1,-1L1,1M-1,1L1,-1M0,-1.25V1.25","M-0.95,-0.95H0.95V0.95H-0.95Z","M-1.18,-1.18H1.18V1.18H-1.18Z M-0.8,0H0.8 M0,-0.8V0.8","M-1.73,0A1.73,1.73,0,1,1,1.73,0A1.73,1.73,0,1,1,-1.73,0Z","circle"]}}
     }}
    ]
   },
   {"mark": {"type": "rect", "fill": "white", "stroke": "black", "strokeWidth": 2},
    "transform": [{"filter": {"field": "c", "equal": "Вьетнам"}}, {"filter": {"field": "t", "equal": 2018}}],
    "encoding": {"x": {"datum": 1991.9, "type": "quantitative"}, "x2": {"datum": 2004.9}, "y": {"datum": 49.45, "type": "quantitative"}, "y2": {"datum": 29.6}}},
   {"mark": {"type": "text", "text": ["Во Вьетнаме", "руководители", "думают о", "развитии своей", "страны."], "font": "Liberation Serif", "fontSize": 26, "lineHeight": 30.5, "align": "center", "baseline": "middle", "color": "black"},
    "transform": [{"filter": {"field": "c", "equal": "Вьетнам"}}, {"filter": {"field": "t", "equal": 2018}}],
    "encoding": {"x": {"datum": 1998.4, "type": "quantitative"}, "y": {"datum": 47.0, "type": "quantitative"}}}
  ]
}
]
}
